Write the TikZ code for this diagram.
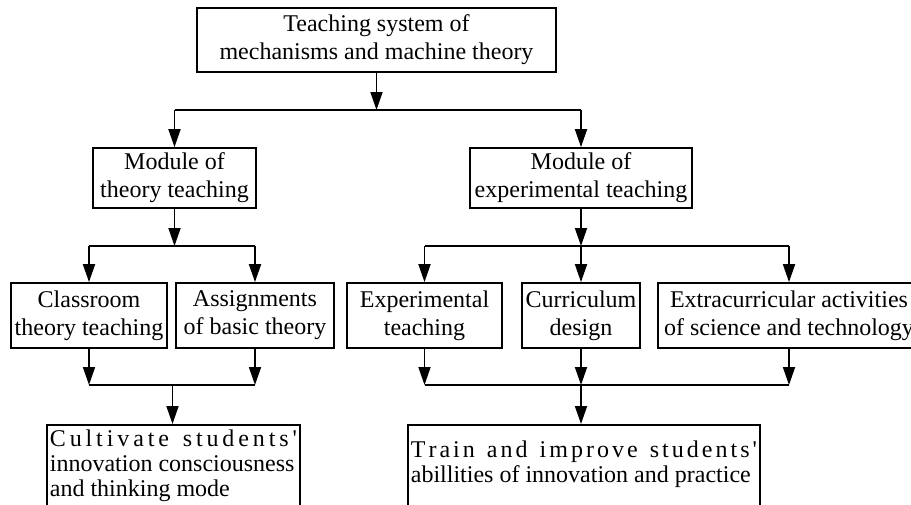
\documentclass[tikz,border=0pt]{standalone}
\usepackage{fontspec}
\setmainfont{Liberation Serif}
\usetikzlibrary{arrows.meta}

\begin{document}
\begin{tikzpicture}[x=1pt,y=-1pt,
  box/.style={draw, line width=1.8pt, inner sep=0pt, align=center,
    font=\fontsize{24}{28}\selectfont},
  result/.style={draw, line width=1.8pt, inner xsep=3pt, inner ysep=0pt,
    anchor=north west, font=\fontsize{24}{25}\selectfont},
  link/.style={line width=1.8pt},
  arr/.style={line width=1.8pt, -{Triangle[length=18pt,width=12pt]}}]

\clip (0,0) rectangle (911,504);

% top level
\node[box, minimum width=359pt, minimum height=64pt] (top) at (376.5,40)
  {Teaching system of\\mechanisms and machine theory};

% modules
\node[box, minimum width=163pt, minimum height=60pt] (modT) at (174.5,178)
  {Module of\\theory teaching};
\node[box, minimum width=222pt, minimum height=60pt] (modE) at (581,178)
  {Module of\\experimental teaching};

% teaching activities
\node[box, minimum width=156pt, minimum height=65pt] (cls) at (89,315.5)
  {Classroom\\theory teaching};
\node[box, minimum width=158pt, minimum height=65pt] (asg) at (255,315.5)
  {Assignments\\of basic theory};
\node[box, minimum width=155pt, minimum height=65pt] (exp) at (424.5,315.5)
  {Experimental\\teaching};
\node[box, minimum width=118pt, minimum height=65pt] (cur) at (581,315.5)
  {Curriculum\\design};
\node[box, minimum width=262pt, minimum height=65pt] (ext) at (789,315.5)
  {Extracurricular activities\\of science and technology};

% outcomes
\node[result] (cult) at (46,424)
  {\parbox[c][110pt][t]{247pt}{\raggedright
   \rule{0pt}{22pt}\makebox[\linewidth][s]{C\hfill u\hfill l\hfill t\hfill i\hfill v\hfill a\hfill t\hfill e\hfill\ \hfill s\hfill t\hfill u\hfill d\hfill e\hfill n\hfill t\hfill s\hfill \textquotesingle}\\
   innovation consciousness\\
   and thinking mode}};
\node[result] (train) at (407,424)
  {\parbox[c][110pt][t]{346pt}{\raggedright
   \rule{0pt}{33pt}\makebox[\linewidth][s]{T\hfill r\hfill a\hfill i\hfill n\hfill\ \hfill a\hfill n\hfill d\hfill\ \hfill i\hfill m\hfill p\hfill r\hfill o\hfill v\hfill e\hfill\ \hfill s\hfill t\hfill u\hfill d\hfill e\hfill n\hfill t\hfill s\hfill \textquotesingle}\\
   abillities of innovation and practice}};

% junction rows
\coordinate (busA) at (376.5,110);
\coordinate (busL) at (174.5,246);
\coordinate (busR) at (581,246);
\coordinate (joinL) at (172.5,385);
\coordinate (joinR) at (581,385);

% top level to modules
\draw[arr] (top.south) -- (top.south |- busA);
\draw[link] (modT.north |- busA) -- (modE.north |- busA);
\draw[arr] (modT.north |- busA) -- (modT.north);
\draw[arr] (modE.north |- busA) -- (modE.north);

% theory module branch
\draw[arr] (modT.south) -- (busL);
\draw[link] (cls.north |- busL) -- (asg.north |- busL);
\draw[arr] (cls.north |- busL) -- (cls.north);
\draw[arr] (asg.north |- busL) -- (asg.north);

% experimental module branch
\draw[arr] (modE.south) -- (busR);
\draw[link] (exp.north |- busR) -- (ext.north |- busR);
\draw[arr] (exp.north |- busR) -- (exp.north);
\draw[arr] (cur.north |- busR) -- (cur.north);
\draw[arr] (ext.north |- busR) -- (ext.north);

% theory outcomes
\draw[arr] (cls.south) -- (cls.south |- joinL);
\draw[arr] (asg.south) -- (asg.south |- joinL);
\draw[link] (cls.south |- joinL) -- (asg.south |- joinL);
\draw[arr] (joinL) -- (cult.north -| joinL);

% experimental outcomes
\draw[arr] (exp.south) -- (exp.south |- joinR);
\draw[arr] (cur.south) -- (cur.south |- joinR);
\draw[arr] (ext.south) -- (ext.south |- joinR);
\draw[link] (exp.south |- joinR) -- (ext.south |- joinR);
\draw[arr] (joinR) -- (train.north -| joinR);

\end{tikzpicture}
\end{document}
